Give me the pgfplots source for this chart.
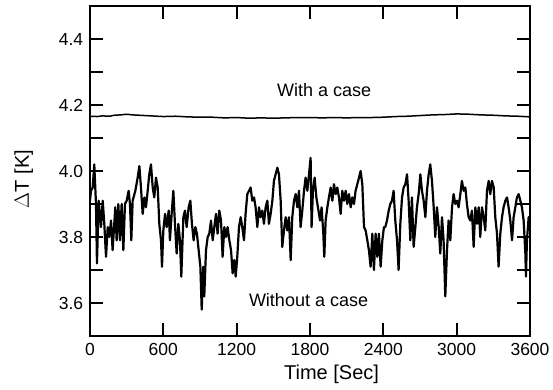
\documentclass[border=0pt]{standalone}
\usepackage{pgfplots}
\pgfplotsset{compat=1.18}
\usepackage{fontspec}
\setmainfont{Liberation Sans}
\begin{document}
\begin{tikzpicture}
\useasboundingbox (-90bp,-54bp) rectangle (463bp,336bp);
\begin{axis}[
  at={(0,0)}, anchor=south west,
  scale only axis, width=440bp, height=330bp,
  xmin=0, xmax=3600, ymin=3.5, ymax=4.5,
  xtick={0,600,...,3600},
  ytick={3.6,3.8,4.0,4.2,4.4},
  minor ytick={3.5,3.7,3.9,4.1,4.3},
  tick align=inside,
  major tick length=13bp, minor tick length=13bp,
  every tick/.style={line width=1.8bp, black},
  axis line style={line width=2bp},
  xticklabel pos=bottom, yticklabel pos=left,
  scaled ticks=false,
  /pgf/number format/assume math mode=true,
  /pgf/number format/1000 sep={},
  yticklabel style={/pgf/number format/fixed, /pgf/number format/precision=1, /pgf/number format/fixed zerofill, xshift=-3.3bp},
  xticklabel style={yshift=-3.3bp},
  ticklabel style={font=\fontsize{17.5bp}{20bp}\selectfont},
  every axis x label/.style={at={(rel axis cs:0.549,0)}, yshift=-43bp, anchor=base},
  every axis y label/.style={at={(rel axis cs:0,0.476)}, xshift=-61bp, rotate=90, anchor=base},
  label style={font=\fontsize{20bp}{24bp}\selectfont},
  xlabel={Time [Sec]},
  ylabel={$\Delta$T [K]},
]
\addplot[black, line width=1.5bp, line join=round] coordinates {
(0,4.166) (60,4.165) (100,4.167) (160,4.166) (200,4.169) (250,4.170) (300,4.172) (350,4.170) (400,4.169) (450,4.168) (500,4.167) (600,4.165) (700,4.166)
(800,4.164) (900,4.163) (1000,4.163) (1100,4.161) (1200,4.162) (1300,4.160) (1400,4.161) (1500,4.160)
(1600,4.161) (1700,4.162) (1800,4.162) (1900,4.161) (2000,4.162) (2100,4.161) (2200,4.162) (2300,4.162)
(2400,4.163) (2500,4.165) (2600,4.166) (2700,4.168) (2800,4.170) (2900,4.171) (3000,4.173) (3100,4.172)
(3200,4.170) (3300,4.169) (3400,4.167) (3500,4.166) (3600,4.164)
};
\addplot[black, line width=2.2bp, line join=round] coordinates {
(0,3.91) (8,3.94) (22,3.95) (35,4.02) (49,3.90) (57,3.72) (71,3.91) (90,3.83) (104,3.91) (117,3.84)
(131,3.74) (145,3.83) (158,3.80) (172,3.85) (185,3.76) (207,3.89) (218,3.79) (232,3.90) (245,3.79)
(259,3.90) (273,3.76) (286,3.90) (300,3.91) (316,3.94) (327,3.90) (338,3.79) (349,3.91) (371,3.94)
(390,3.98) (404,4.015) (417,3.95) (431,3.87) (445,3.92) (458,3.89) (472,3.94) (485,3.99) (499,4.02)
(513,3.95) (526,3.92) (540,3.98) (554,3.95) (567,3.84) (581,3.79) (589,3.71) (600,3.82) (614,3.87)
(627,3.83) (644,3.88) (654,3.79) (668,3.87) (682,3.94) (695,3.84) (709,3.75) (723,3.84) (736,3.79)
(747,3.68) (764,3.86) (777,3.88) (791,3.83) (807,3.89) (821,3.91) (834,3.84) (848,3.79) (862,3.83)
(875,3.81) (889,3.76) (903,3.71) (914,3.58) (927,3.71) (935,3.62) (949,3.76) (963,3.80) (976,3.81)
(990,3.85) (1004,3.79) (1017,3.83) (1031,3.87) (1044,3.81) (1058,3.88) (1072,3.85) (1085,3.74)
(1099,3.83) (1113,3.80) (1126,3.83) (1140,3.79) (1154,3.76) (1167,3.69) (1181,3.73) (1192,3.68)
(1205,3.74) (1219,3.83) (1233,3.86) (1246,3.83) (1260,3.79) (1273,3.87) (1287,3.93) (1301,3.94)
(1314,3.95) (1328,3.91) (1342,3.92) (1355,3.89) (1369,3.83) (1383,3.89) (1396,3.86) (1410,3.88)
(1423,3.84) (1437,3.89) (1451,3.91) (1464,3.84) (1478,3.87) (1492,3.91) (1505,3.97) (1519,3.99)
(1533,4.01) (1546,3.99) (1560,3.91) (1573,3.77) (1587,3.82) (1601,3.86) (1614,3.82) (1628,3.86)
(1642,3.73) (1655,3.86) (1669,3.91) (1683,3.93) (1696,3.89) (1710,3.94) (1723,3.83) (1737,3.88)
(1751,3.94) (1764,3.98) (1778,3.94) (1792,3.99) (1805,4.04) (1813,3.83) (1824,3.94) (1838,3.98)
(1852,3.92) (1865,3.89) (1882,3.85) (1895,3.89) (1909,3.81) (1917,3.74) (1928,3.85) (1942,3.89)
(1955,3.92) (1969,3.95) (1983,3.91) (1996,3.96) (2010,3.93) (2023,3.95) (2037,3.92) (2051,3.87)
(2064,3.94) (2078,3.91) (2092,3.94) (2105,3.90) (2119,3.93) (2133,3.89) (2146,3.92) (2160,3.90)
(2173,3.94) (2187,3.96) (2201,3.98) (2214,4.00) (2228,3.96) (2242,3.83) (2255,3.82) (2269,3.79)
(2282,3.76) (2296,3.71) (2310,3.81) (2323,3.70) (2337,3.81) (2351,3.74) (2364,3.81) (2378,3.71)
(2392,3.79) (2405,3.83) (2416,3.83) (2430,3.85) (2444,3.88) (2457,3.90) (2471,3.91) (2484,3.94)
(2498,3.85) (2512,3.79) (2525,3.70) (2539,3.84) (2553,3.92) (2566,3.95) (2580,3.96) (2594,3.99)
(2607,3.91) (2621,3.79) (2634,3.92) (2648,3.77) (2662,3.83) (2675,3.89) (2689,3.93) (2703,3.99)
(2716,3.94) (2730,3.91) (2744,3.86) (2757,3.94) (2771,3.99) (2784,4.02) (2798,3.97) (2812,3.89)
(2825,3.80) (2839,3.89) (2853,3.83) (2866,3.75) (2880,3.86) (2893,3.79) (2907,3.62) (2921,3.76)
(2934,3.85) (2948,3.79) (2962,3.89) (2975,3.93) (2989,3.90) (3003,3.91) (3016,3.89) (3030,3.93)
(3043,3.97) (3057,3.94) (3071,3.95) (3084,3.90) (3098,3.86) (3112,3.85) (3125,3.88) (3139,3.77)
(3153,3.89) (3166,3.84) (3180,3.89) (3193,3.80) (3207,3.89) (3221,3.86) (3234,3.82) (3248,3.94)
(3262,3.97) (3275,3.93) (3289,3.97) (3303,3.95) (3316,3.86) (3330,3.81) (3343,3.71) (3357,3.81)
(3371,3.86) (3384,3.89) (3398,3.91) (3412,3.92) (3425,3.89) (3439,3.85) (3453,3.79) (3466,3.86)
(3480,3.89) (3493,3.92) (3507,3.93) (3521,3.91) (3534,3.89) (3548,3.85) (3562,3.75) (3567,3.68)
(3575,3.79) (3589,3.86) (3600,3.83)
};
\node[anchor=base, font=\fontsize{18bp}{21bp}\selectfont] at (axis cs:1915,4.225) {With a case};
\node[anchor=base, font=\fontsize{18bp}{21bp}\selectfont] at (axis cs:1788,3.588) {Without a case};
\end{axis}
\end{tikzpicture}
\end{document}
